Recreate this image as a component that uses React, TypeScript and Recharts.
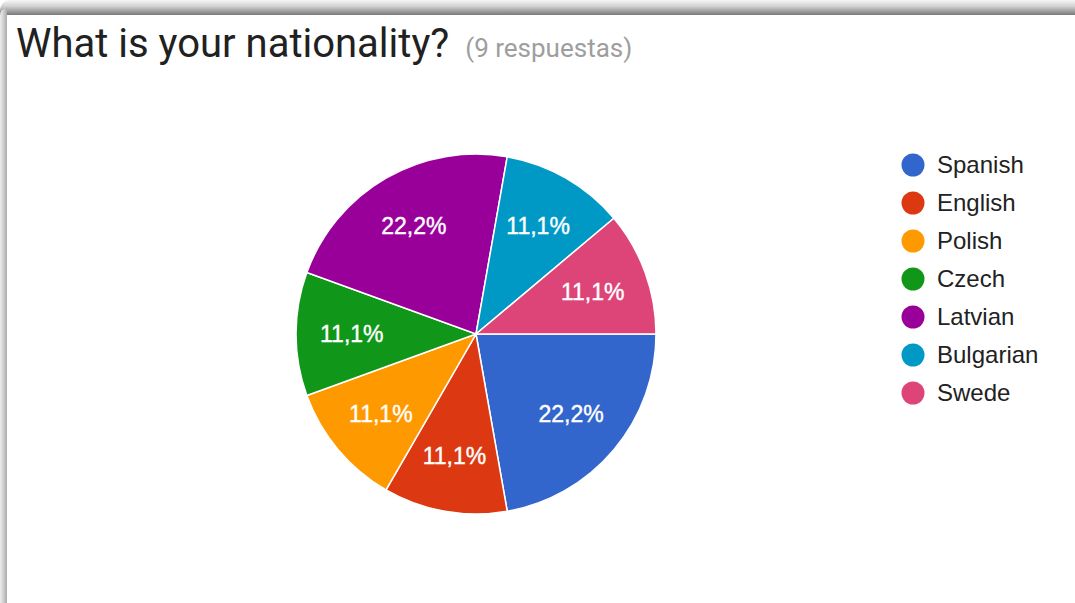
import React from "react";
import { PieChart, Pie, Cell, Legend } from "recharts";

const categories = ["Spanish", "English", "Polish", "Czech", "Latvian", "Bulgarian", "Swede"];
const counts = [2, 1, 1, 1, 2, 1, 1];
const colors = ["#3366cc", "#dc3912", "#ff9900", "#109618", "#990099", "#0099c6", "#dd4477"];
const title = "What is your nationality?";
const subtitle = "(9 respuestas)";

const data = categories.map((name, i) => ({ name, value: counts[i] }));
const total = counts.reduce((a, b) => a + b, 0);

const RAD = Math.PI / 180;

const renderLabel = (props: any) => {
  const { cx, cy, midAngle, outerRadius, value } = props;
  const r = outerRadius * 0.69;
  const x = cx + r * Math.cos(-midAngle * RAD);
  const y = cy + r * Math.sin(-midAngle * RAD);
  const pct = ((value / total) * 100).toFixed(1).replace(".", ",") + "%";
  return (
    <text
      x={x}
      y={y}
      fill="#ffffff"
      stroke="#ffffff"
      strokeWidth={0.4}
      textAnchor="middle"
      dominantBaseline="central"
      fontFamily="'Liberation Sans', Arial, sans-serif"
      fontSize={23}
    >
      {pct}
    </text>
  );
};

const LegendContent = () => {
  return (
    <div>
      {categories.map((name, i) => (
        <div
          key={name}
          style={{ display: "flex", alignItems: "center", height: 38 }}
        >
          <svg width={24} height={24} style={{ marginRight: 12 }}>
            <circle cx={12} cy={12} r={11.5} fill={colors[i]} />
          </svg>
          <span
            style={{
              fontFamily: "'Liberation Sans', Arial, sans-serif",
              fontSize: 24,
              color: "#222222",
            }}
          >
            {name}
          </span>
        </div>
      ))}
    </div>
  );
};

export default function App() {
  return (
    <div
      style={{
        position: "absolute",
        left: 0,
        top: 0,
        width: 1075,
        height: 603,
        overflow: "hidden",
        background: "#ffffff",
      }}
    >
      <div
        style={{
          position: "absolute",
          left: 0,
          top: 0,
          width: 1075,
          height: 16,
          background: "linear-gradient(to bottom, #f6f6f6 0%, #d0d0d0 40%, #6e6e6e 100%)",
          borderTopLeftRadius: 10,
        }}
      />
      <div
        style={{
          position: "absolute",
          left: 0,
          top: 8,
          width: 7,
          height: 595,
          background: "linear-gradient(to right, #eeeeee 0%, #c8c8c8 60%, #aaaaaa 100%)",
          borderTopLeftRadius: 8,
        }}
      />
      <div
        style={{
          position: "absolute",
          left: 7,
          top: 15,
          width: 1068,
          height: 588,
          background: "#ffffff",
        }}
      />
      <div
        style={{
          position: "absolute",
          left: 16,
          top: 20,
          whiteSpace: "nowrap",
          fontFamily: "Roboto, sans-serif",
        }}
      >
        <span style={{ fontSize: 40, color: "#212121" }}>{title}</span>
        <span style={{ fontSize: 26, color: "#9e9e9e", marginLeft: 16 }}>{subtitle}</span>
      </div>
      <div style={{ position: "absolute", left: 0, top: 0 }}>
        <PieChart width={1075} height={603} margin={{ top: 0, right: 0, bottom: 0, left: 0 }}>
          <Pie
            data={data}
            dataKey="value"
            nameKey="name"
            cx={476}
            cy={334}
            outerRadius={180}
            startAngle={0}
            endAngle={-360}
            stroke="#ffffff"
            strokeWidth={1.5}
            label={renderLabel}
            labelLine={false}
            isAnimationActive={false}
          >
            {data.map((d, i) => (
              <Cell key={d.name} fill={colors[i]} />
            ))}
          </Pie>
          <Legend
            content={<LegendContent />}
            wrapperStyle={{ position: "absolute", left: 901, top: 146, width: 170 }}
          />
        </PieChart>
      </div>
    </div>
  );
}
